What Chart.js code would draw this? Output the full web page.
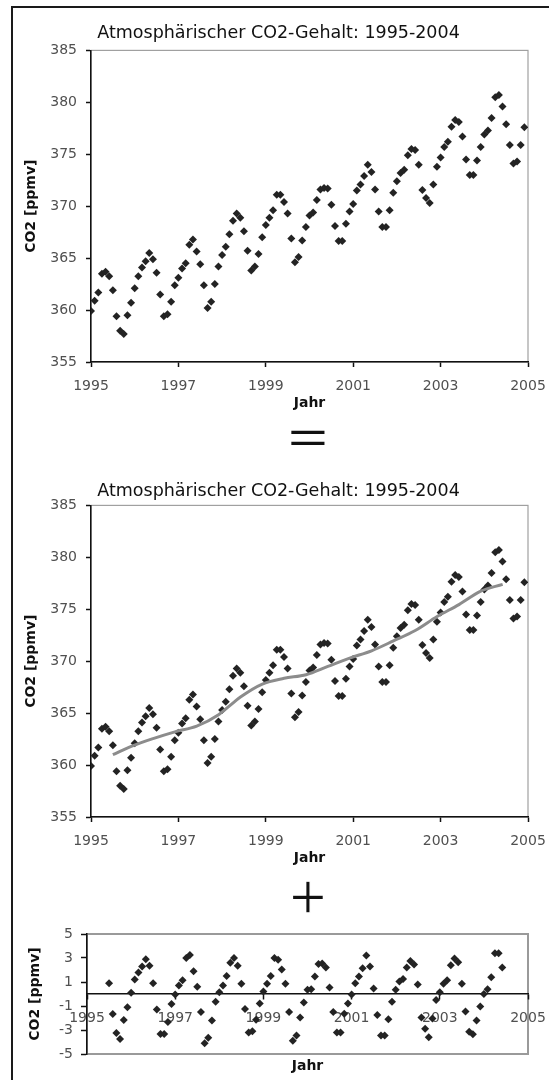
<!DOCTYPE html>
<html>
<head>
<meta charset="utf-8">
<script src="https://cdn.jsdelivr.net/npm/chart.js@4.4.1/dist/chart.umd.min.js"></script>
<style>
  html, body { margin: 0; padding: 0; background: #fff; }
  body { width: 549px; height: 1080px; overflow: hidden; position: relative; }
  .frame { position: absolute; left: 11px; top: 6px; width: 600px; height: 1100px;
           border-left: 2px solid #1a1a1a; border-top: 2px solid #1a1a1a; }
  canvas { position: absolute; }
  .sym { position: absolute; width: 80px; height: 80px; display: flex;
         align-items: center; justify-content: center;
         font-family: 'Liberation Sans', Arial, sans-serif; color: #111; line-height: 1; }
</style>
</head>
<body>
<div class="frame"></div>
<canvas id="top" width="533" height="410" style="left:12px;top:8px"></canvas>
<div class="sym" style="left:268px;top:398px;font-size:44px;transform:scaleX(1.55)">=</div>
<canvas id="mid" width="533" height="410" style="left:12px;top:463px"></canvas>
<div class="sym" style="left:268px;top:857px;font-size:64px;-webkit-text-stroke:1.4px #fff">+</div>
<canvas id="bot" width="533" height="170" style="left:12px;top:910px"></canvas>
<script>
// monatliche Werte ab Januar 1995
const startYear = 1995;
const co2 = [
  359.9, 360.9, 361.7, 363.5, 363.7, 363.25, 361.9, 359.4, 358.0, 357.7, 359.5, 360.7,
  362.1, 363.25, 364.1, 364.7, 365.5, 364.9, 363.6, 361.5, 359.4, 359.6, 360.8, 362.4,
  363.1, 364.0, 364.5, 366.3, 366.8, 365.65, 364.4, 362.4, 360.2, 360.8, 362.5, 364.2,
  365.3, 366.1, 367.3, 368.6, 369.3, 368.9, 367.6, 365.7, 363.8, 364.2, 365.4, 367.0,
  368.2, 368.9, 369.6, 371.1, 371.1, 370.4, 369.3, 366.9, 364.6, 365.1, 366.7, 368.0,
  369.1, 369.4, 370.6, 371.6, 371.75, 371.7, 370.15, 368.1, 366.65, 366.65, 368.3, 369.5,
  370.2, 371.5, 372.1, 372.9, 374.0, 373.3, 371.6, 369.5, 368.0, 368.0, 369.6, 371.3,
  372.4, 373.2, 373.5, 374.9, 375.5, 375.4, 374.0, 371.55, 370.8, 370.3, 372.1, 373.8,
  374.7, 375.7, 376.2, 377.65, 378.3, 378.1, 376.7, 374.5, 373.0, 373.0, 374.4, 375.7,
  376.9, 377.3, 378.5, 380.5, 380.7, 379.6, 377.9, 375.9, 374.1, 374.3, 375.9, 377.6
];

// geglaetteter Trend
const trendX = [1995.5, 1995.92, 1996.42, 1996.92, 1997.42, 1997.92, 1998.17, 1998.42,
  1998.92, 1999.42, 1999.92, 2000.42, 2000.92, 2001.42, 2001.92, 2002.42, 2002.92,
  2003.42, 2003.92, 2004.42];
const trendY = [361.0, 361.8, 362.55, 363.2, 363.75, 364.85, 365.7, 366.55,
  367.8, 368.35, 368.7, 369.5, 370.3, 371.0, 371.95, 372.95, 374.3,
  375.45, 376.75, 377.4];

// saisonale Abweichung ab Juli 1995
const residualStart = 1995.5;
const residual = [
  0.9, -1.67, -3.25, -3.75, -2.17, -1.1,
  0.1, 1.2, 1.8, 2.3, 2.9, 2.35, 0.9, -1.3, -3.33, -3.33, -2.33, -0.83,
  -0.05, 0.7, 1.15, 3.0, 3.25, 1.9, 0.6, -1.5, -4.1, -3.65, -2.2, -0.65,
  0.15, 0.7, 1.5, 2.6, 3.0, 2.35, 0.85, -1.25, -3.2, -3.1, -2.15, -0.8,
  0.2, 0.85, 1.5, 3.0, 2.85, 2.05, 0.85, -1.5, -3.9, -3.45, -1.95, -0.7,
  0.35, 0.4, 1.45, 2.5, 2.55, 2.2, 0.55, -1.5, -3.2, -3.2, -1.65, -0.8,
  -0.05, 0.9, 1.45, 2.15, 3.2, 2.3, 0.45, -1.75, -3.45, -3.45, -2.1, -0.65,
  0.35, 1.05, 1.25, 2.2, 2.75, 2.45, 0.8, -1.95, -2.9, -3.6, -2.05, -0.5,
  0.15, 0.85, 1.15, 2.4, 2.95, 2.65, 0.85, -1.45, -3.15, -3.35, -2.2, -1.05,
  0.0, 0.4, 1.4, 3.4, 3.4, 2.2
];

const titleText = "Atmosphärischer CO2-Gehalt: 1995-2004";
const yTitle = "CO2 [ppmv]";
const xTitle = "Jahr";

Chart.defaults.font.family = "'DejaVu Sans', sans-serif";
Chart.defaults.color = "#505050";

const plotFrame = {
  id: "plotFrame",
  beforeDraw(chart, args, opts) {
    const { ctx, chartArea: a } = chart;
    ctx.save();
    ctx.strokeStyle = opts.color || "#9a9a9a";
    ctx.lineWidth = opts.width || 1.5;
    ctx.strokeRect(a.left, a.top, a.right - a.left, a.bottom - a.top);
    ctx.restore();
  },
};

function monthly(values, start) {
  return values.map((v, i) => ({ x: start + i / 12, y: v }));
}

function pointSet(data) {
  return {
    data: data,
    pointStyle: "rectRot",
    pointRadius: 4,
    pointBackgroundColor: "#232323",
    pointBorderWidth: 0,
    showLine: false,
    order: 1,
  };
}

// rechter Rand der Zeichenflaeche fest auf 17px
function fixPadding(s) {
  s.paddingLeft = 0;
  s.paddingRight = 17;
}

function yearAxis(extra) {
  return Object.assign({
    type: "linear",
    min: 1995,
    max: 2005,
    border: { color: "#111", width: 1.5 },
    grid: { drawOnChartArea: false, tickLength: 5, tickColor: "#111", tickWidth: 1.5 },
    ticks: { stepSize: 2, autoSkip: false, maxRotation: 0, padding: 10.6,
      font: { size: 14 }, callback: (v) => String(v) },
    afterFit: fixPadding,
  }, extra);
}

function axisTitle(pad) {
  return { display: true, font: { size: 14, weight: "bold" }, color: "#111", padding: pad };
}

function co2Chart(id, withTrend, titlePad) {
  const datasets = [pointSet(monthly(co2, startYear))];
  if (withTrend) {
    datasets.push({
      data: trendX.map((x, i) => ({ x: x, y: trendY[i] })),
      showLine: true,
      borderColor: "#8c8c8c",
      borderWidth: 3,
      pointRadius: 0,
      cubicInterpolationMode: "monotone",
      order: 0,
    });
  }
  return new Chart(document.getElementById(id), {
    type: "scatter",
    data: { datasets: datasets },
    plugins: [plotFrame],
    options: {
      responsive: false,
      animation: false,
      devicePixelRatio: 1,
      layout: { padding: 0 },
      plugins: {
        legend: { display: false },
        tooltip: { enabled: false },
        plotFrame: { color: "#a0a0a0", width: 1.2 },
        title: {
          display: true,
          text: titleText,
          color: "#111",
          font: { size: 17.5, weight: "normal" },
          padding: titlePad,
        },
      },
      scales: {
        x: yearAxis({
          position: "bottom",
          title: Object.assign(axisTitle({ top: 0, bottom: 6 }), { text: xTitle }),
          afterFit: (s) => { s.height = 56; fixPadding(s); },
        }),
        y: {
          type: "linear",
          min: 355,
          max: 385,
          border: { color: "#111", width: 1.5 },
          grid: { drawOnChartArea: false, tickLength: 5, tickColor: "#111", tickWidth: 1.5 },
          ticks: { stepSize: 5, padding: 9, font: { size: 14 } },
          title: Object.assign(axisTitle({ top: 10.6, bottom: 0 }), { text: yTitle }),
          afterFit: (s) => { s.width = 79; },
        },
      },
    },
  });
}

co2Chart("top", false, { top: 14.6, bottom: 6.8 });
co2Chart("mid", true, { top: 17.6, bottom: 3.8 });

new Chart(document.getElementById("bot"), {
  type: "scatter",
  data: { datasets: [pointSet(monthly(residual, residualStart))] },
  plugins: [plotFrame],
  options: {
    responsive: false,
    animation: false,
    devicePixelRatio: 1,
    layout: { padding: { top: 24, right: 0, bottom: 0, left: 0 } },
    plugins: {
      legend: { display: false },
      tooltip: { enabled: false },
      plotFrame: { color: "#9a9a9a", width: 2 },
    },
    scales: {
      x: yearAxis({ position: { y: 0 } }),
      x2: {
        type: "linear",
        position: "bottom",
        min: 1995,
        max: 2005,
        ticks: { display: false },
        grid: { display: false },
        border: { display: false },
        title: Object.assign(axisTitle({ top: 0, bottom: 5.6 }), { text: xTitle }),
        afterFit: (s) => { s.height = 26; fixPadding(s); },
      },
      y: {
        type: "linear",
        min: -5,
        max: 5,
        border: { color: "#111", width: 1.5 },
        grid: { drawOnChartArea: false, tickLength: 6, tickColor: "#111", tickWidth: 1.5 },
        ticks: { stepSize: 2, padding: 8, font: { size: 14 } },
        title: Object.assign(axisTitle({ top: 14.6, bottom: 0 }), { text: yTitle }),
        afterFit: (s) => { s.width = 75; },
      },
    },
  },
});
</script>
</body>
</html>
